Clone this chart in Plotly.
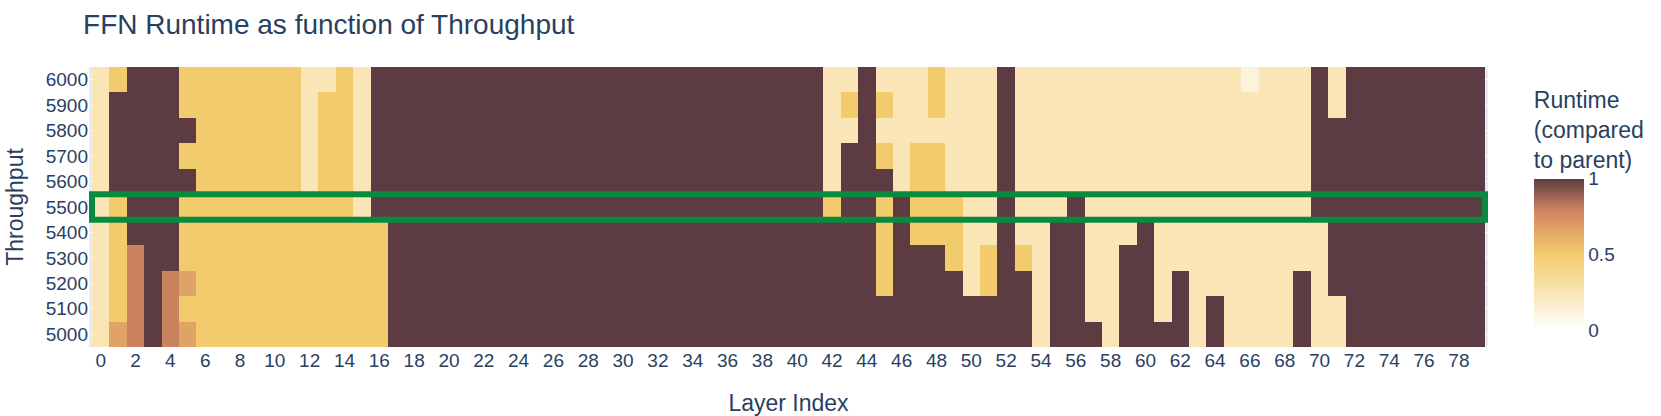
import plotly.graph_objects as go

# Layer indices and throughput levels
layers = list(range(80))
throughputs = [5000, 5100, 5200, 5300, 5400, 5500, 5600, 5700, 5800, 5900, 6000]

# Runtime value per code letter (fraction of parent runtime)
code_values = {"D": 1.0, "O": 0.8, "Q": 0.66, "Y": 0.5, "L": 0.25, "V": 0.12}

# One string per throughput row (80 layers each), read column by column
row_5000 = "LQODOQ" + "Y" * 11 + "D" * 37 + "L" + "DDD" + "L" + "DDDD" + "L" + "D" + "LLLL" + "D" + "LL" + "D" * 8
row_5100 = "LYODOY" + "Y" * 11 + "D" * 37 + "L" + "DD" + "LL" + "DD" + "L" + "D" + "L" + "D" + "LLLL" + "D" + "LL" + "D" * 8
row_5200 = "LYODOQ" + "Y" * 11 + "D" * 28 + "Y" + "DDDD" + "L" + "Y" + "DD" + "L" + "DD" + "LL" + "DD" + "L" + "D" + "L" * 6 + "D" + "L" + "D" * 9
row_5300 = "LYODDY" + "Y" * 11 + "D" * 28 + "Y" + "DDD" + "Y" + "L" + "Y" + "D" + "Y" + "L" + "DD" + "LL" + "DD" + "L" * 9 + "L" + "D" * 9
row_5400 = "LYDDDY" + "Y" * 11 + "D" * 28 + "Y" + "D" + "YYY" + "LL" + "D" + "LL" + "DD" + "LLL" + "D" + "L" * 9 + "L" + "D" * 9
row_5500 = "LYDDDY" + "Y" * 9 + "L" + "D" * 26 + "Y" + "DD" + "Y" + "D" + "YYY" + "LL" + "D" + "LLL" + "D" + "L" * 13 + "D" * 10
row_5600 = "LDDDDD" + "Y" * 6 + "LYYL" + "D" * 26 + "L" + "DDD" + "L" + "YY" + "LLL" + "D" + "L" * 17 + "D" * 10
row_5700 = "LDDDDY" + "Y" * 6 + "LYYL" + "D" * 26 + "L" + "DD" + "Y" + "L" + "YY" + "LLL" + "D" + "L" * 17 + "D" * 10
row_5800 = "LDDDDD" + "Y" * 6 + "LYYL" + "D" * 26 + "LL" + "D" + "L" * 7 + "D" + "L" * 17 + "D" * 10
row_5900 = "LDDDDY" + "Y" * 6 + "LYYL" + "D" * 26 + "L" + "Y" + "D" + "Y" + "LL" + "Y" + "LLL" + "D" + "L" * 17 + "D" + "L" + "D" * 8
row_6000 = "LYDDDY" + "Y" * 6 + "LLYL" + "D" * 26 + "LL" + "D" + "LLL" + "Y" + "LLL" + "D" + "L" * 13 + "V" + "LLL" + "D" + "L" + "D" * 8

rows = [row_5000, row_5100, row_5200, row_5300, row_5400, row_5500,
        row_5600, row_5700, row_5800, row_5900, row_6000]
z = [[code_values[c] for c in r] for r in rows]

highlight_throughput = 5500

colorscale = [[0.0, "#ffffff"], [0.5, "#f2cb6c"], [0.79, "#d08560"], [1.0, "#5c3c42"]]

fig = go.Figure(go.Heatmap(
    x=layers, y=throughputs, z=z, zmin=0, zmax=1,
    colorscale=colorscale,
    colorbar=dict(title=dict(text="Runtime<br>(compared<br>to parent)"),
                  tickvals=[0, 0.5, 1], ticktext=["0", "0.5", "1"],
                  thickness=50, outlinewidth=0, x=1.0256,
                  len=0.936, y=0.493, yanchor="middle"),
))

fig.add_shape(type="rect", xref="x", yref="y",
              x0=layers[0] - 0.5, x1=layers[-1] + 0.5,
              y0=highlight_throughput - 50, y1=highlight_throughput + 50,
              line=dict(color="#0a8a3f", width=6))

fig.update_layout(
    template="plotly",
    width=1661, height=416,
    font=dict(family="Liberation Sans, Arial, sans-serif", size=19),
    title=dict(text="FFN Runtime as function of Throughput", font=dict(size=28),
               x=0.05, xanchor="left"),
    margin=dict(l=89, r=173, t=67, b=69, autoexpand=False),
    xaxis=dict(title=dict(text="Layer Index", standoff=24), tick0=0, dtick=2),
    yaxis=dict(title=dict(text="Throughput"), tick0=5000, dtick=100),
)

fig.write_html("out.html", config={"displayModeBar": False},
               post_script="document.body.style.margin='0px';")
